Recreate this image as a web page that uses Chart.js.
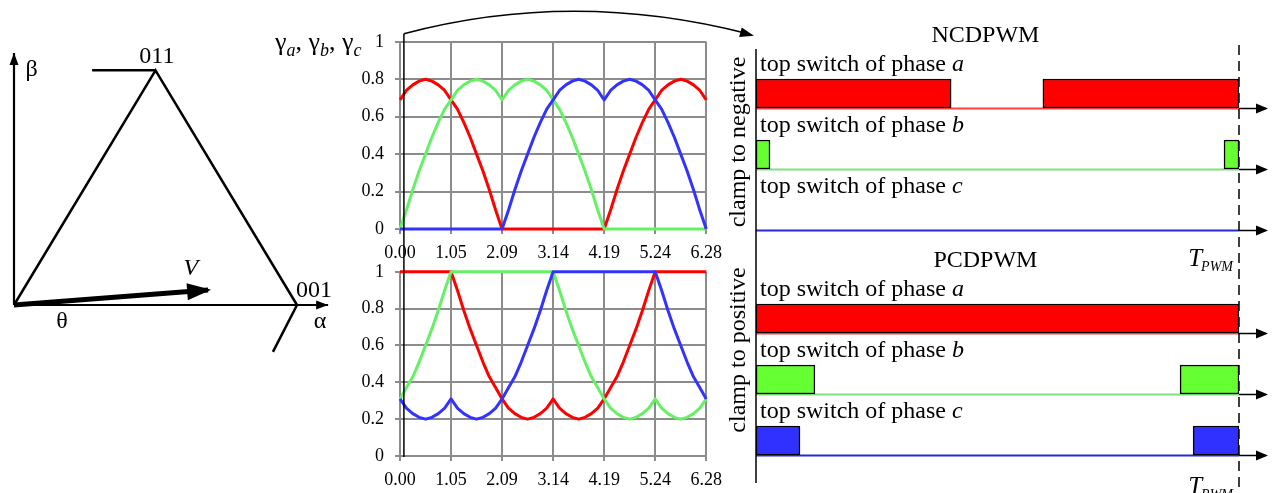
<!DOCTYPE html>
<html><head><meta charset="utf-8">
<script src="https://cdn.jsdelivr.net/npm/chart.js@4/dist/chart.umd.min.js"></script>
<style>
html,body{margin:0;padding:0;background:#fff;}
#wrap{position:relative;width:1277px;height:493px;overflow:hidden;background:#fff;}
canvas{position:absolute;}
</style></head><body>
<div id="wrap">
<canvas id="cTop" width="390" height="250" style="left:340px;top:20px"></canvas>
<canvas id="cBot" width="390" height="243" style="left:340px;top:250px"></canvas>
<canvas id="cNcd" width="557" height="250" style="left:720px;top:0px"></canvas>
<canvas id="cPcd" width="557" height="243" style="left:720px;top:250px"></canvas>
<canvas id="cOver" width="1277" height="493" style="left:0;top:0;pointer-events:none"></canvas>
</div>
<script>
// ================= DATA =================
const theta = [0,0.1309,0.2618,0.3927,0.5236,0.6545,0.7854,0.9163,1.0472,1.1781,1.3090,1.4399,1.5708,1.7017,1.8326,1.9635,2.0944,2.2253,2.3562,2.4871,2.6180,2.7489,2.8798,3.0107,3.1416,3.2725,3.4034,3.5343,3.6652,3.7961,3.9270,4.0579,4.1888,4.3197,4.4506,4.5815,4.7124,4.8433,4.9742,5.1051,5.2360,5.3669,5.4978,5.6287,5.7596,5.8905,6.0214,6.1523,6.2832];

// NCDPWM duty ratios (clamp to negative)
const ncdA = [0.69,0.74,0.77,0.79,0.80,0.79,0.77,0.74,0.69,0.64,0.57,0.49,0.40,0.31,0.21,0.10,0,0,0,0,0,0,0,0,0,0,0,0,0,0,0,0,0,0.10,0.21,0.31,0.40,0.49,0.57,0.64,0.69,0.74,0.77,0.79,0.80,0.79,0.77,0.74,0.69];
const ncdB = [0,0.10,0.21,0.31,0.40,0.49,0.57,0.64,0.69,0.74,0.77,0.79,0.80,0.79,0.77,0.74,0.69,0.74,0.77,0.79,0.80,0.79,0.77,0.74,0.69,0.64,0.57,0.49,0.40,0.31,0.21,0.10,0,0,0,0,0,0,0,0,0,0,0,0,0,0,0,0,0];
const ncdC = [0,0,0,0,0,0,0,0,0,0,0,0,0,0,0,0,0,0.10,0.21,0.31,0.40,0.49,0.57,0.64,0.69,0.74,0.77,0.79,0.80,0.79,0.77,0.74,0.69,0.74,0.77,0.79,0.80,0.79,0.77,0.74,0.69,0.64,0.57,0.49,0.40,0.31,0.21,0.10,0];

// PCDPWM duty ratios (clamp to positive)
const pcdA = [1,1,1,1,1,1,1,1,1,0.90,0.79,0.69,0.60,0.51,0.43,0.37,0.31,0.26,0.23,0.21,0.20,0.21,0.23,0.26,0.31,0.26,0.23,0.21,0.20,0.21,0.23,0.26,0.31,0.37,0.43,0.51,0.60,0.69,0.79,0.90,1,1,1,1,1,1,1,1,1];
const pcdB = [0.31,0.37,0.43,0.51,0.60,0.69,0.79,0.90,1,1,1,1,1,1,1,1,1,1,1,1,1,1,1,1,1,0.90,0.79,0.69,0.60,0.51,0.43,0.37,0.31,0.26,0.23,0.21,0.20,0.21,0.23,0.26,0.31,0.26,0.23,0.21,0.20,0.21,0.23,0.26,0.31];
const pcdC = [0.31,0.26,0.23,0.21,0.20,0.21,0.23,0.26,0.31,0.26,0.23,0.21,0.20,0.21,0.23,0.26,0.31,0.37,0.43,0.51,0.60,0.69,0.79,0.90,1,1,1,1,1,1,1,1,1,1,1,1,1,1,1,1,1,0.90,0.79,0.69,0.60,0.51,0.43,0.37,0.31];

const xTickValues = [0,1.0472,2.0944,3.1416,4.1888,5.2360,6.2832];
const xTickLabels = ['0.00','1.05','2.09','3.14','4.19','5.24','6.28'];
const yTickValues = [0,0.2,0.4,0.6,0.8,1];
const yTickLabels = ['0','0.2','0.4','0.6','0.8','1'];
const markerTheta = 0.08;

// switching pulses within one PWM period (fraction of T_PWM)
const phaseLetters = ['a','b','c'];
const ncdPulsesA = [[0,0.404],[0.594,1]];
const ncdPulsesB = [[0,0.029],[0.969,1]];
const ncdPulsesC = [];
const pcdPulsesA = [[0,1]];
const pcdPulsesB = [[0,0.122],[0.878,1]];
const pcdPulsesC = [[0,0.091],[0.905,1]];

// space-vector diagram (alpha-beta units)
const triAlpha = [0,0.5,1],       triBeta = [0,0.866,0];
const betaAxisAlpha = [0,0],      betaAxisBeta = [0,0.93];
const alphaAxisAlpha = [0,1.11],  alphaAxisBeta = [0,0];
const stub011Alpha = [0.276,0.5], stub011Beta = [0.866,0.866];
const stub001Alpha = [1,0.915],   stub001Beta = [0,-0.173];
const vecAlpha = [0,0.686],       vecBeta = [0,0.055];

// ================= STYLE =================
const FONT = "'Liberation Serif','Times New Roman',serif";
const GRID = '#8c8c8c';
const LINE_COLORS = ['#ff0000','#66f066','#3333ff'];
const BAR_COLORS = ['#ff0000','#66ff33','#3030ff'];
const LOW_COLORS = ['#ff4040','#7ee07e','#2828d8'];
const BAR_H = 29;

const base = {responsive:false, animation:false, devicePixelRatio:1, events:[],
  plugins:{legend:{display:false}, tooltip:{enabled:false}}};

function lineChart(id, sets, padTop, axisH) {
  return new Chart(document.getElementById(id), {
    type:'line',
    data:{datasets: sets.map(s => ({
      data: theta.map((t,i)=>({x:t, y:s.v[i]})),
      borderColor:s.c, borderWidth:3, pointRadius:0, tension:0, fill:false, clip:false,
      borderJoinStyle:'round'}))},
    options: Object.assign({}, base, {
      layout:{padding:{top:padTop, right:22, left:0, bottom:0}},
      scales:{
        x:{type:'linear', min:0, max:6.2832,
          afterBuildTicks:sc=>{sc.ticks = xTickValues.map(v=>({value:v}));},
          afterFit:sc=>{sc.height = axisH;},
          grid:{color:GRID, lineWidth:2, tickLength:5},
          border:{color:GRID, width:2},
          ticks:{autoSkip:false, maxRotation:0, padding:8, color:'#000',
            font:{family:FONT, size:18}, callback:(v,i)=>xTickLabels[i]}},
        y:{type:'linear', min:0, max:1,
          afterBuildTicks:sc=>{sc.ticks = yTickValues.map(v=>({value:v}));},
          afterFit:sc=>{sc.width = 60;},
          grid:{color:GRID, lineWidth:2, tickLength:5},
          border:{color:GRID, width:2},
          ticks:{padding:11, color:'#000', font:{family:FONT, size:18},
            callback:(v,i)=>yTickLabels[i]}}
      }
    })
  });
}

const topChart = lineChart('cTop', [{v:ncdC,c:LINE_COLORS[2]},{v:ncdB,c:LINE_COLORS[1]},{v:ncdA,c:LINE_COLORS[0]}], 21, 41);
const botChart = lineChart('cBot', [{v:pcdC,c:LINE_COLORS[2]},{v:pcdB,c:LINE_COLORS[1]},{v:pcdA,c:LINE_COLORS[0]}], 18, 37);

function arrowHead(ctx, x0, y0, x1, y1, len, half, ext) {
  const a = Math.atan2(y1-y0, x1-x0);
  const tx = x1 + (ext||0)*Math.cos(a), ty = y1 + (ext||0)*Math.sin(a);
  ctx.save(); ctx.fillStyle = '#000'; ctx.beginPath();
  ctx.moveTo(tx, ty);
  ctx.lineTo(tx - len*Math.cos(a) + half*Math.sin(a), ty - len*Math.sin(a) - half*Math.cos(a));
  ctx.lineTo(tx - len*Math.cos(a) - half*Math.sin(a), ty - len*Math.sin(a) + half*Math.cos(a));
  ctx.closePath(); ctx.fill(); ctx.restore();
}

const pwmDecor = {
  id:'pwmDecor',
  beforeDatasetsDraw(chart, args, opts) {
    const {ctx, scales:{x, y}} = chart;
    const x0 = x.getPixelForValue(0), x1 = x.getPixelForValue(1);
    phaseLetters.forEach((l, i) => {
      const yb = Math.round(y.getPixelForValue(i) + BAR_H/2) + 0.5;
      ctx.save();
      ctx.strokeStyle = LOW_COLORS[i]; ctx.lineWidth = 2;
      ctx.beginPath(); ctx.moveTo(x0, yb); ctx.lineTo(x1, yb); ctx.stroke();
      ctx.strokeStyle = '#000'; ctx.lineWidth = 1.5;
      ctx.beginPath(); ctx.moveTo(x1, yb); ctx.lineTo(x1 + 27, yb); ctx.stroke();
      ctx.restore();
      arrowHead(ctx, x1, yb, x1 + 29, yb, 12, 5, 0);
    });
  },
  afterDatasetsDraw(chart, args, opts) {
    const {ctx, scales:{x, y}, chartArea} = chart;
    ctx.save();
    ctx.fillStyle = '#000'; ctx.textBaseline = 'alphabetic';
    phaseLetters.forEach((l, i) => {
      const yt = y.getPixelForValue(i) - BAR_H/2 - 8;
      const xs = x.getPixelForValue(0) + 4;
      ctx.font = `24px ${FONT}`; ctx.textAlign = 'left';
      const s = 'top switch of phase ';
      ctx.fillText(s, xs, yt);
      const w = ctx.measureText(s).width;
      ctx.font = `italic 24px ${FONT}`;
      ctx.fillText(l, xs + w, yt);
    });
    ctx.font = `24px ${FONT}`; ctx.textAlign = 'center';
    ctx.fillText(opts.title, x.getPixelForValue(opts.titleAt), chartArea.top - 21);
    ctx.restore();
  }
};

function pwmChart(id, pulses, pad, title) {
  const n = Math.max(...pulses.map(p => p.length));
  const datasets = [];
  for (let j = 0; j < n; j++) {
    datasets.push({
      data: pulses.map(p => p[j] || null),
      backgroundColor: BAR_COLORS, borderColor:'#000', borderWidth:1.5,
      borderSkipped:false, barThickness:BAR_H, grouped:false
    });
  }
  return new Chart(document.getElementById(id), {
    type:'bar',
    data:{labels: phaseLetters, datasets},
    options: Object.assign({}, base, {
      indexAxis:'y',
      layout:{padding:pad},
      plugins:{legend:{display:false}, tooltip:{enabled:false}, pwmDecor:{title, titleAt:0.475}},
      scales:{
        x:{type:'linear', min:0, max:1, display:false},
        y:{type:'category', display:false, offset:true}
      }
    }),
    plugins:[pwmDecor]
  });
}

const ncdChart = pwmChart('cNcd', [ncdPulsesA, ncdPulsesB, ncdPulsesC], {left:36, right:38, top:63, bottom:4}, 'NCDPWM');
const pcdChart = pwmChart('cPcd', [pcdPulsesA, pcdPulsesB, pcdPulsesC], {left:36, right:38, top:38, bottom:22}, 'PCDPWM');

// ================= OVERLAY: vector diagram + connectors =================
function seg(xs, ys, w, arrow) {
  return {data: xs.map((v, i) => ({x:v, y:ys[i]})), showLine:true, borderColor:'#000',
    borderWidth:w, pointRadius:0, clip:false, arrow};
}

const diagramLabels = [
  {t:'β', x:0.062, y:0.845},
  {t:'011', x:0.505, y:0.893},
  {t:'V', x:0.625, y:0.111, italic:true},
  {t:'001', x:1.06, y:0.03},
  {t:'θ', x:0.17, y:-0.085},
  {t:'α', x:1.081, y:-0.085}
];

function drawT(ctx, xr, yb) {
  ctx.save(); ctx.fillStyle = '#000'; ctx.textAlign = 'left'; ctx.textBaseline = 'alphabetic';
  ctx.font = `italic 25px ${FONT}`; const w1 = ctx.measureText('T').width;
  ctx.font = `italic 14px ${FONT}`; const w2 = ctx.measureText('PWM').width;
  const xs = xr - w1 - w2 + 1;
  ctx.font = `italic 25px ${FONT}`; ctx.fillText('T', xs, yb);
  ctx.font = `italic 14px ${FONT}`; ctx.fillText('PWM', xs + w1 - 1, yb + 5);
  ctx.restore();
}

const overlayPlugin = {
  id:'overlayDecor',
  afterDatasetsDraw(chart) {
    const ctx = chart.ctx;
    // arrowheads
    chart.data.datasets.forEach((ds, i) => {
      if (!ds.arrow) return;
      const pts = chart.getDatasetMeta(i).data;
      const p0 = pts[pts.length-2], p1 = pts[pts.length-1];
      arrowHead(ctx, p0.x, p0.y, p1.x, p1.y, ds.arrow.len, ds.arrow.half, ds.arrow.ext);
    });
    // diagram labels
    ctx.save(); ctx.fillStyle = '#000'; ctx.textAlign = 'center'; ctx.textBaseline = 'alphabetic';
    diagramLabels.forEach(l => {
      ctx.font = `${l.italic ? 'italic ' : ''}24px ${FONT}`;
      ctx.fillText(l.t, chart.scales.x.getPixelForValue(l.x), chart.scales.y.getPixelForValue(l.y));
    });
    ctx.restore();

    // gamma label
    ctx.save(); ctx.fillStyle = '#000'; ctx.textAlign = 'left'; ctx.textBaseline = 'alphabetic';
    let gx = 275; const gy = 50;
    ['a','b','c'].forEach((l, i) => {
      ctx.font = `26px ${FONT}`; ctx.fillText('γ', gx, gy); gx += ctx.measureText('γ').width;
      ctx.font = `italic 18px ${FONT}`; ctx.fillText(l, gx, gy + 6); gx += ctx.measureText(l).width;
      if (i < 2) { ctx.font = `26px ${FONT}`; ctx.fillText(', ', gx, gy); gx += ctx.measureText(', ').width; }
    });
    ctx.restore();

    // marker line + curved connector arrow
    const tc = topChart, bc = botChart;
    const mx = 340 + tc.scales.x.getPixelForValue(markerTheta);
    const my0 = 20 + tc.chartArea.top - 8;
    const my1 = 250 + bc.chartArea.bottom + 1;
    const rx0 = 720 + ncdChart.scales.x.getPixelForValue(0);
    const rx1 = 720 + ncdChart.scales.x.getPixelForValue(1);
    ctx.save(); ctx.strokeStyle = '#000'; ctx.lineWidth = 1.5;
    ctx.beginPath(); ctx.moveTo(mx, my1); ctx.lineTo(mx, my0); ctx.stroke();
    const ex = rx0 - 2, ey = my0 + 2;
    const cx = (mx + ex)/2 - 6, cy = my0 - 45;
    ctx.beginPath(); ctx.moveTo(mx, my0); ctx.quadraticCurveTo(cx, cy, ex - 6, ey - 2); ctx.stroke();
    ctx.restore();
    arrowHead(ctx, cx, cy, ex, ey, 14, 5, 0);

    // right panel axis and period line
    ctx.save(); ctx.strokeStyle = '#000'; ctx.lineWidth = 1.5;
    ctx.beginPath(); ctx.moveTo(rx0, 49); ctx.lineTo(rx0, 483); ctx.stroke();
    ctx.setLineDash([10, 6]);
    ctx.beginPath(); ctx.moveTo(rx1, 45); ctx.lineTo(rx1, 492); ctx.stroke();
    ctx.restore();

    // clamp texts
    ctx.save(); ctx.fillStyle = '#000'; ctx.font = `24px ${FONT}`;
    ctx.textAlign = 'center'; ctx.textBaseline = 'middle';
    [['clamp to negative', 142], ['clamp to positive', 350]].forEach(([t, cy2]) => {
      ctx.save(); ctx.translate(rx0 - 17, cy2); ctx.rotate(-Math.PI/2); ctx.fillText(t, 0, 0); ctx.restore();
    });
    ctx.restore();

    drawT(ctx, rx1 - 6, 266);
    drawT(ctx, rx1 - 6, 494);
  }
};

const over = new Chart(document.getElementById('cOver'), {
  type:'scatter',
  data:{datasets:[
    seg(betaAxisAlpha, betaAxisBeta, 2.2, {len:12, half:4.5}),
    seg(alphaAxisAlpha, alphaAxisBeta, 2.2, {len:12, half:4.5}),
    seg(triAlpha, triBeta, 2.5),
    seg(stub011Alpha, stub011Beta, 2.5),
    seg(stub001Alpha, stub001Beta, 2.5),
    seg(vecAlpha, vecBeta, 5, {len:24, half:8.5, ext:3})
  ]},
  options: Object.assign({}, base, {
    layout:{padding:0},
    scales:{
      x:{type:'linear', display:false, min:-0.04947, max:4.46293},
      y:{type:'linear', display:false, min:-0.69373, max:1.12546}
    }
  }),
  plugins:[overlayPlugin]
});
</script>
</body></html>
